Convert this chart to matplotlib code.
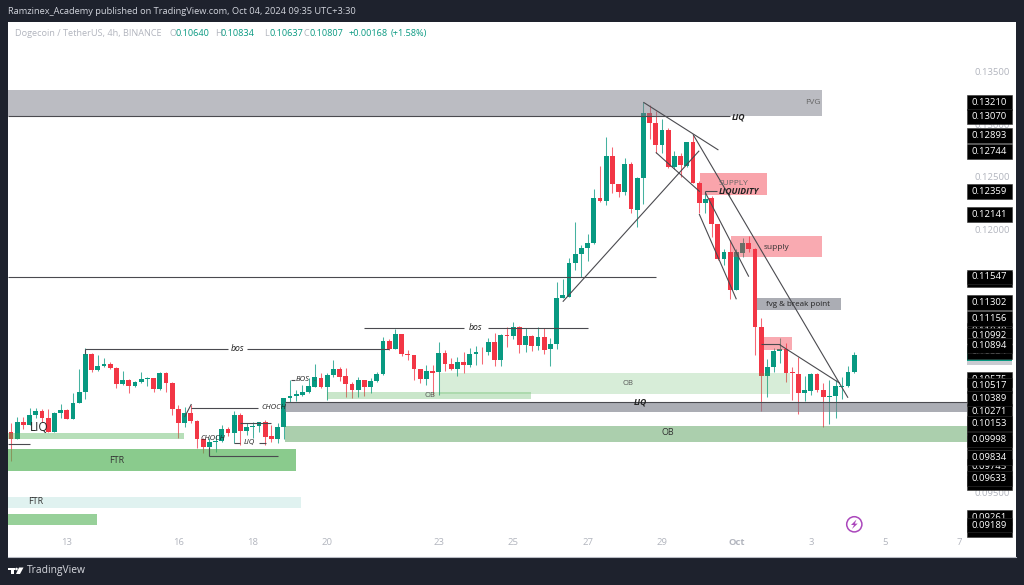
import matplotlib
matplotlib.use("Agg")
import matplotlib.pyplot as plt
from matplotlib.patches import Rectangle, Circle, Polygon
import numpy as np

plt.rcParams['font.family'] = ['Open Sans', 'DejaVu Sans']

# precios en 1e-5 USDT, velas de 4h
opens = np.array([10070,10007,10168,10140,10235,10270,10206,10076,10257,10282,10197,10352,10453,10812,10659,10704,10720,10682,10533,10564,10510,10552,10574,10583,10485,10631,10539,10292,10162,10251,10178,10003,9934,9975,9984,10098,10067,10238,10086,10121,10127,10165,10032,10010,10117,10393,10415,10428,10453,10504,10587,10504,10615,10672,
    10605,10529,10472,10564,10500,10561,10627,10935,10865,11001,10814,10801,10668,10576,10652,10643,10827,10722,10675,10735,10706,10814,10836,10830,10925,10757,10998,10985,11068,10903,10985,10890,10973,10859,10909,11347,11359,11676,11762,11822,11873,12294,12269,12697,12427,12357,12624,12183,12487,13102,13013,12804,12941,12592,12700,12605,12830,12440,12247,12294,12050,11714,11781,11423,11778,11866,11812,11074,10608,10694,10846,10859,10640,10624,10440,10466,10621,10475,10408,10415,10504,10513,10640])
highs = np.array([10156,10213,10219,10298,10298,10289,10289,10266,10339,10289,10441,10672,10869,10827,10805,10773,10742,10688,10653,10577,10561,10647,10599,10590,10647,10647,10545,10330,10314,10330,10187,10013,10013,10045,10140,10124,10276,10257,10156,10171,10171,10187,10140,10156,10393,10568,10472,10520,10583,10720,10631,10631,10758,10694,
    10678,10551,10592,10567,10583,10646,10973,10954,11055,11001,10852,10805,10668,10710,10710,10925,10852,10773,10789,10836,10868,10893,10884,10963,11017,11004,11068,11122,11080,11058,10995,11068,11058,10963,11502,11527,11724,12072,11850,11952,12380,12601,12874,12779,12427,12681,12643,12494,13213,13181,13128,13045,12960,12747,12728,12833,12896,12462,12357,12316,12050,11809,11898,11809,11914,11936,11819,11153,10763,10868,10963,10916,10694,10782,10605,10630,10630,10535,10567,10567,10592,10700,10834])
lows = np.array([9801,10007,10105,10140,10203,10171,10076,10076,10203,10197,10197,10352,10390,10647,10653,10688,10669,10495,10520,10447,10498,10536,10510,10453,10472,10457,10235,10013,10124,10156,9918,9870,9845,9886,9981,10035,9972,9949,10045,10013,10076,9949,9981,9965,10003,10361,10371,10415,10447,10498,10488,10377,10599,10561,
    10408,10393,10408,10415,10447,10551,10611,10852,10859,10798,10757,10567,10542,10519,10424,10424,10656,10662,10608,10630,10694,10710,10716,10805,10700,10700,10878,10954,10827,10836,10846,10852,10811,10703,10859,11347,11359,11613,11549,11701,11860,12262,12231,12342,12310,12326,12158,12018,12240,12855,12728,12728,12579,12573,12500,12595,12437,12158,12158,11930,11708,11660,11334,11423,11740,11787,10805,10275,10408,10646,10725,10551,10377,10244,10371,10424,10456,10123,10149,10202,10383,10504,10637])
closes = np.array([10007,10165,10137,10238,10270,10209,10076,10257,10279,10197,10352,10453,10812,10659,10704,10723,10678,10533,10564,10510,10552,10577,10583,10485,10631,10539,10292,10162,10251,10178,10003,9934,9978,9984,10098,10060,10238,10086,10124,10133,10165,10029,10010,10117,10393,10415,10431,10453,10507,10593,10504,10618,10672,10599,
    10529,10472,10564,10500,10561,10627,10935,10865,11001,10814,10805,10668,10573,10649,10637,10827,10722,10675,10738,10710,10814,10833,10830,10925,10757,10998,10985,11068,10903,10985,10890,10973,10852,10909,11347,11372,11676,11762,11822,11873,12294,12269,12697,12427,12357,12624,12190,12487,13102,13013,12804,12941,12592,12700,12608,12830,12443,12247,12291,12050,11714,11781,11423,11781,11866,11809,11074,10608,10694,10846,10859,10637,10630,10440,10469,10621,10472,10408,10418,10510,10510,10646,10807])

x_ticks = [9, 27, 39, 51, 69, 81, 93, 105, 117, 129, 141, 153]
x_labels = ['13', '16', '18', '20', '23', '25', '27', '29', 'Oct', '3', '5', '7']
y_ticks = [0.095, 0.10, 0.105, 0.11, 0.115, 0.12, 0.125, 0.13, 0.135]

price_labels = [0.13210, 0.13070, 0.12893, 0.12744, 0.12359, 0.12141, 0.11547, 0.11302, 0.11156, 0.10992, 0.10894, 0.10517, 0.10389, 0.10153, 0.09998, 0.09834, 0.09633, 0.09189]
hidden_labels = [0.11520, 0.11040, 0.10834, 0.10575, 0.10271, 0.10127, 0.09970, 0.09745, 0.09590, 0.09261, 0.09150]

# zonas: bar inicio, bar fin, precio arriba, precio abajo, color, alpha
zones = [
    (-0.5, 130.8, .13324, .13077, '#787b86', .5),
    (111.1, 121.9, .12531, .12326, '#f23645', .45),
    (116.1, 130.8, .11939, .11734, '#f23645', .42),
    (120.3, 133.9, .11350, .11233, '#787b86', .62),
    (121.1, 126.0, .10976, .10853, '#f23645', .42),
    (69.0, 125.6, .10634, .10435, '#4caf50', .22),
    (51.0, 83.9, .10454, .10387, '#4caf50', .3),
    (44.2, 154.2, .10359, .10268, '#787b86', .62),
    (44.2, 154.2, .10130, .09983, '#388e3c', .42),
    (-0.5, 27.9, .10064, .10007, '#4caf50', .4),
    (-0.5, 46.0, .09912, .09703, '#4caf50', .65),
    (-0.5, 46.8, .09455, .09351, '#b2dfdb', .4),
    (-0.5, 13.9, .09294, .09189, '#4caf50', .58),
]

# lineas dibujadas: x0, p0, x1, p1
lines = [
    (-0.5, .13073, 116, .13073), (-0.5, .11547, 104, .11547),
    (56.9, .11062, 73, .11062), (76.9, .11062, 93, .11062),
    (12, .10867, 35, .10867), (38, .10867, 61, .10867), (12, .10867, 12, .10815),
    (29, .10302, 39.8, .10302), (28, .10216, 29.1, .10339),
    (45.2, .10568, 45.8, .10568), (48.8, .10568, 49, .10568),
    (36, .09969, 37, .09969), (40, .09969, 41.1, .09969),
    (36.9, .10162, 42, .10162), (32, .09845, 43, .09845), (32, .09935, 32, .09845),
    (-0.5, .09962, 3.1, .09962), (44.2, .10359, 154.2, .10359),
    (102, .13208, 114.1, .12754), (104, .12732, 111.1, .12358),
    (89, .11312, 111, .12747), (110, .12903, 135, .10399),
    (112, .12348, 119, .11550), (111, .12146, 117, .11335),
    (124, .10902, 133.7, .10536), (121, .10907, 124, .10907),
    (112, .12364, 113.9, .12364), (112, .12364, 112, .12333),
]

# textos: bar, precio, texto, tamano, estilo, peso, color
notes = [
    (129.4, .13201, 'FVG', 6, 'normal', 'normal', '#666666'),
    (117.4, .13068, 'LIQ', 6.2, 'italic', 'bold', '#222222'),
    (116.5, .12431, 'SUPPLY', 6, 'normal', 'normal', '#666666'),
    (117.4, .12364, 'LIQUIDITY', 6.2, 'italic', 'bold', '#222222'),
    (123.5, .11832, 'supply', 6, 'normal', 'normal', '#333333'),
    (126.9, .11290, 'fvg & break point', 5.8, 'normal', 'normal', '#222222'),
    (99.5, .10530, 'OB', 5.5, 'normal', 'normal', '#555555'),
    (67.6, .10425, 'OB', 5.5, 'normal', 'normal', '#555555'),
    (106, .10064, 'OB', 6.5, 'normal', 'normal', '#333333'),
    (101.5, .10359, 'LIQ', 6, 'italic', 'bold', '#222222'),
    (17, .09807, 'FTR', 6.5, 'normal', 'normal', '#333333'),
    (4, .09408, 'FTR', 6.5, 'normal', 'normal', '#333333'),
    (4.5, .10114, 'LIQ', 8.5, 'normal', 'normal', '#222222'),
    (42.4, .10302, 'CHOCH', 5.5, 'italic', 'normal', '#222222'),
    (32.5, .10007, 'CHOCH', 5.5, 'italic', 'normal', '#222222'),
    (38.4, .09969, 'LIQ', 5.5, 'italic', 'normal', '#222222'),
    (47, .10568, 'BOS', 5.5, 'italic', 'normal', '#222222'),
    (36.5, .10867, 'bos', 6.2, 'italic', 'normal', '#222222'),
    (75, .11062, 'bos', 6.2, 'italic', 'normal', '#222222'),
]

dark = '#1e222d'
green = '#089981'
red = '#f23645'
grey = '#b2b5be'

fig = plt.figure(figsize=(10.24, 5.85), dpi=100, facecolor=dark)
ax = fig.add_axes([8/1024, 1-557/585, 1008/1024, 535/585], zorder=1)
ax.set_xlim(-0.484, 162.1)
ax.set_ylim(.08885, .13971)

o = opens/1e5; h = highs/1e5; l = lows/1e5; c = closes/1e5
idx = np.arange(len(o))
cols = [green if c[i] >= o[i] else red for i in idx]
ax.vlines(idx, l, h, colors=cols, linewidth=0.75, alpha=0.75, zorder=2)
ax.bar(idx, np.maximum(np.abs(c-o), 0.00004), bottom=np.minimum(o, c), width=0.78, color=cols, zorder=2.2)

for x0, x1, top, bot, col, al in zones:
    ax.add_patch(Rectangle((x0, bot), x1-x0, top-bot, facecolor=col, edgecolor='none', alpha=al, zorder=3))

for x0, p0, x1, p1 in lines:
    ax.plot([x0, x1], [p0, p1], color='#4a4a4f', linewidth=0.8, zorder=4, solid_capstyle='butt')

for x, p, txt, size, style, weight, col in notes:
    ax.text(x, p, txt, fontsize=size, style=style, weight=weight, color=col, ha='center', va='center', zorder=5)

# ejes
ax.set_xticks(x_ticks)
ax.set_xticklabels(x_labels)
ax.set_yticks(y_ticks)
ax.set_yticklabels(['%.5f' % v for v in y_ticks])
ax.yaxis.tick_right()
ax.tick_params(axis='x', length=0, pad=-14, labelsize=6.8, labelcolor=grey)
ax.tick_params(axis='y', length=0, pad=-30, labelsize=6.8, labelcolor=grey)
for lab in ax.get_xticklabels():
    if lab.get_text() == 'Oct':
        lab.set_weight('bold')
for name, sp in ax.spines.items():
    sp.set_visible(name == 'bottom')
    sp.set_color('#b8bbc4')

# etiquetas de precio
box_h = 0.00142
def price_box(p, z, txt=True):
    ax.add_patch(Rectangle((154.2, p-box_h/2), 7.2, box_h, facecolor='black', edgecolor='#333333', linewidth=0.4, zorder=z))
    if txt:
        ax.text(157.8, p, '%.5f' % p, color='white', fontsize=6.8, ha='center', va='center', zorder=z+0.1)

ax.add_patch(Rectangle((154.2, .10710), 7.2, .00041, facecolor='#c9cbd1', edgecolor='none', zorder=5.5))
ax.add_patch(Rectangle((154.2, .10751), 7.2, .00128, facecolor=green, edgecolor='none', zorder=5.4))
ax.text(157.8, c[-1], '%.5f' % c[-1], color='white', fontsize=6.8, ha='center', va='center', zorder=5.45)
for p in hidden_labels:
    price_box(p, 6)
for p in price_labels:
    price_box(p, 7)

# cabecera y pie, en pixeles de la figura
ov = fig.add_axes([0, 0, 1, 1], zorder=2)
ov.set_xlim(0, 1024)
ov.set_ylim(585, 0)
ov.axis('off')
ov.patch.set_alpha(0)
ov.text(8, 12, 'Ramzinex_Academy published on TradingView.com, Oct 04, 2024 09:35 UTC+3:30', color='#d1d4dc', fontsize=6.7, va='center')
ov.text(15, 33.5, 'Dogecoin / TetherUS, 4h, BINANCE', color=grey, fontsize=6.6, va='center')
for x, t, col in [(169, 'O', grey), (175, '0.10640', green), (215, 'H', grey), (220.5, '0.10834', green),
                  (264, 'L', grey), (269, '0.10637', green), (304, 'C', grey), (310, '0.10807', green),
                  (349, '+0.00168', green), (391, '(+1.58%)', green)]:
    ov.text(x, 33.5, t, color=col, fontsize=6.6, va='center')

# logo
ov.add_patch(Rectangle((8, 567.5), 7, 2.5, facecolor='white', edgecolor='none'))
ov.add_patch(Rectangle((11, 567.5), 3, 6.5, facecolor='white', edgecolor='none'))
ov.add_patch(Circle((16.5, 569), 1.3, facecolor='white', edgecolor='none'))
ov.add_patch(Polygon([(19, 567.5), (23.5, 567.5), (20, 574), (16, 574)], facecolor='white', edgecolor='none'))
ov.text(27, 571, 'TradingView', color='#d8dae0', fontsize=7.4, va='center')

# icono rayo
ov.add_patch(Circle((854.3, 524.3), 7.6, facecolor='white', edgecolor='#ab47bc', linewidth=1.1))
ov.add_patch(Polygon([(856.5, 519.5), (851, 525), (854, 525), (852, 529), (857.7, 523.6), (854.8, 523.6)], facecolor='#ab47bc', edgecolor='none'))

fig.savefig('out.png', dpi=100, facecolor=dark)
